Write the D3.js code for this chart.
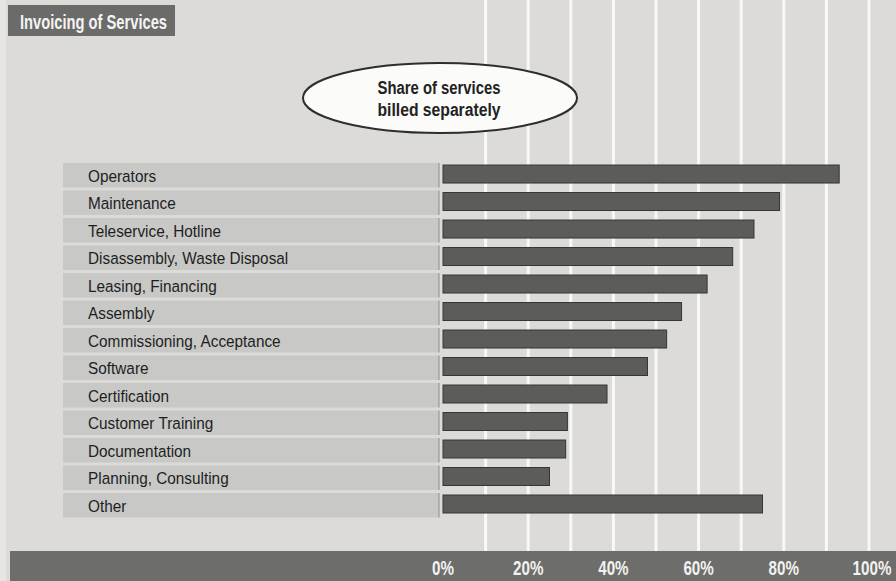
<!DOCTYPE html>
<html>
<head>
<meta charset="utf-8">
<script src="https://cdn.jsdelivr.net/npm/d3@7"></script>
<style>
  html, body { margin: 0; padding: 0; background: #dcdbd8; }
  svg { display: block; }
</style>
</head>
<body>
<div id="chart"></div>
<script>
// data
const categories = [
  "Operators", "Maintenance", "Teleservice, Hotline", "Disassembly, Waste Disposal",
  "Leasing, Financing", "Assembly", "Commissioning, Acceptance", "Software",
  "Certification", "Customer Training", "Documentation", "Planning, Consulting", "Other"
];
const shares = [93, 79, 73, 68, 62, 56, 52.5, 48, 38.5, 29.2, 28.8, 25, 75];
const gridValues = [10, 20, 30, 40, 50, 60, 70, 80, 90, 100];
const tickValues = [0, 20, 40, 60, 80, 100];
const title = "Invoicing of Services";
const legendLines = ["Share of services", "billed separately"];

const width = 896, height = 581;
const font = "'Liberation Sans', Arial, sans-serif";

const svg = d3.select("#chart").append("svg")
    .attr("width", width)
    .attr("height", height);

svg.append("rect")
    .attr("width", width).attr("height", height)
    .attr("fill", "#dcdbd8");

// thin page edge on the left
svg.append("rect")
    .attr("x", 0).attr("y", 0).attr("width", 6).attr("height", height)
    .attr("fill", "#e6e5e2");

const x = d3.scaleLinear().domain([0, 100]).range([443, 869]);
const y = d3.scaleBand().domain(categories).range([160, 520.5]).padding(0.11);

// white vertical grid lines running the full height
svg.append("g")
  .selectAll("line")
  .data(gridValues)
  .enter().append("line")
    .attr("x1", d => x(d)).attr("x2", d => x(d))
    .attr("y1", 0).attr("y2", 551)
    .attr("stroke", "#f8f8f6")
    .attr("stroke-width", 3);

// title box
svg.append("rect")
    .attr("x", 8).attr("y", 5).attr("width", 167).attr("height", 31)
    .attr("fill", "#6b6b69");
svg.append("text")
    .attr("x", 20).attr("y", 28.5)
    .attr("font-family", font)
    .attr("font-weight", "bold")
    .attr("font-size", 21)
    .attr("fill", "#f4f4f2")
    .attr("textLength", 147)
    .attr("lengthAdjust", "spacingAndGlyphs")
    .text(title);

// legend ellipse
svg.append("ellipse")
    .attr("cx", 440).attr("cy", 98).attr("rx", 137).attr("ry", 35)
    .attr("fill", "#fbfbf9")
    .attr("stroke", "#2e2e2e")
    .attr("stroke-width", 2);
svg.append("g")
  .selectAll("text")
  .data(legendLines)
  .enter().append("text")
    .attr("x", 439)
    .attr("y", (d, i) => 93.5 + i * 22.5)
    .attr("text-anchor", "middle")
    .attr("font-family", font)
    .attr("font-weight", "bold")
    .attr("font-size", 18)
    .attr("fill", "#222")
    .attr("textLength", 123)
    .attr("lengthAdjust", "spacingAndGlyphs")
    .text(d => d);

// label bands
const rows = svg.append("g")
  .selectAll("g")
  .data(categories)
  .enter().append("g")
    .attr("transform", d => `translate(0,${y(d)})`);

rows.append("rect")
    .attr("x", 63).attr("width", 376)
    .attr("height", y.bandwidth())
    .attr("fill", "#c8c8c6");

rows.append("line")
    .attr("x1", 439).attr("x2", 439)
    .attr("y1", 0).attr("y2", y.bandwidth())
    .attr("stroke", "#8e8e8c")
    .attr("stroke-width", 1);

rows.append("text")
    .attr("transform", `translate(88,${y.bandwidth() / 2 + 6.5}) scale(0.93,1)`)
    .attr("font-family", font)
    .attr("font-size", 16.5)
    .attr("fill", "#1e1e1e")
    .text(d => d);

// bars
svg.append("g")
  .selectAll("rect")
  .data(shares)
  .enter().append("rect")
    .attr("x", x(0))
    .attr("y", (d, i) => y(categories[i]) + 2)
    .attr("width", d => x(d) - x(0))
    .attr("height", 18)
    .attr("fill", "#5c5c5a")
    .attr("stroke", "#363636")
    .attr("stroke-width", 1);

// bottom axis strip
svg.append("rect")
    .attr("x", 10).attr("y", 551).attr("width", width - 10).attr("height", height - 551)
    .attr("fill", "#6d6d6b");

svg.append("g")
  .selectAll("text")
  .data(tickValues)
  .enter().append("text")
    .attr("transform", d => `translate(${x(d) + (d === 100 ? 3 : 0)},575) scale(0.76,1)`)
    .attr("text-anchor", "middle")
    .attr("font-family", font)
    .attr("font-weight", "bold")
    .attr("font-size", 20)
    .attr("fill", "#f2f2f0")
    .text(d => d + "%");
</script>
</body>
</html>
